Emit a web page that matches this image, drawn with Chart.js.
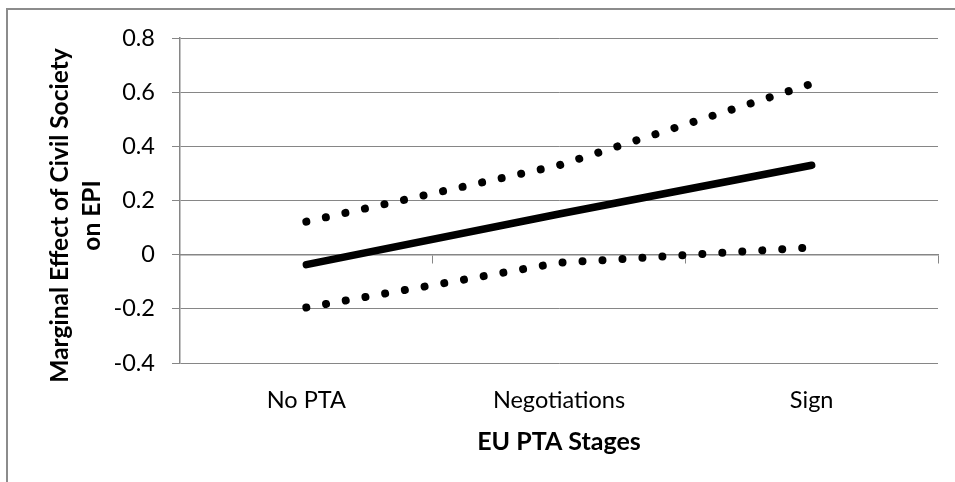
<!DOCTYPE html>
<html>
<head>
<meta charset="utf-8">
<script src="https://cdn.jsdelivr.net/npm/chart.js@4"></script>
<style>
  html, body { margin: 0; padding: 0; background: #fff; }
  #wrap { position: relative; width: 955px; height: 482px; overflow: hidden; }
  #frame { position: absolute; left: 6px; top: 8px; width: 980px; height: 500px;
           border-left: 2px solid #8c8c8c; border-top: 2px solid #8c8c8c; pointer-events: none; }
  canvas { position: absolute; left: 0; top: 0; }
</style>
</head>
<body>
<div id="wrap">
  <canvas id="myChart" width="955" height="482"></canvas>
  <div id="frame"></div>
</div>
<script>
// categories and series
const stages = ['No PTA', 'Negotiations', 'Sign'];
const effect = [-0.037, 0.15, 0.33];
const upperBound = [0.122, 0.33, 0.631];
const lowerBound = [-0.195, -0.03, 0.027];
const yTitleLines = ['Marginal Effect of Civil Society', 'on EPI'];
const xTitle = 'EU PTA Stages';

const gray = '#868686';
const fontFamily = 'Lato, "Liberation Sans", sans-serif';

// y axis title is drawn by hand so it can sit a bit below the plot middle
const yTitlePlugin = {
  id: 'yTitle',
  afterDraw(chart) {
    const ctx = chart.ctx;
    const area = chart.chartArea;
    ctx.save();
    ctx.font = 'bold 24.5px ' + fontFamily;
    ctx.fillStyle = '#000';
    ctx.textAlign = 'center';
    ctx.textBaseline = 'middle';
    ctx.translate(60, (area.top + area.bottom) / 2 + 15);
    ctx.rotate(-Math.PI / 2);
    yTitleLines.forEach((line, i) => {
      ctx.fillText(line, 0, i * 32);
    });
    ctx.restore();
  }
};

const ctx = document.getElementById('myChart').getContext('2d');
const chart = new Chart(ctx, {
  type: 'line',
  data: {
    labels: stages,
    datasets: [
      {
        label: 'Upper',
        data: upperBound,
        borderColor: '#000',
        borderWidth: 8,
        borderDash: [0.01, 20],
        borderCapStyle: 'round',
        pointRadius: 0,
        fill: false
      },
      {
        label: 'Effect',
        data: effect,
        borderColor: '#000',
        borderWidth: 7.5,
        borderCapStyle: 'round',
        pointRadius: 0,
        fill: false
      },
      {
        label: 'Lower',
        data: lowerBound,
        borderColor: '#000',
        borderWidth: 8,
        borderDash: [0.01, 20],
        borderCapStyle: 'round',
        pointRadius: 0,
        fill: false
      }
    ]
  },
  options: {
    responsive: false,
    animation: false,
    layout: { padding: { left: 0, right: 17, top: 38, bottom: 0 } },
    plugins: {
      legend: { display: false },
      tooltip: { enabled: false }
    },
    scales: {
      x: {
        type: 'category',
        offset: true,
        position: 'bottom',
        grid: { display: false, drawTicks: false },
        border: { display: false },
        ticks: {
          color: '#000',
          padding: 23,
          font: { family: fontFamily, size: 23.5 }
        },
        title: {
          display: true,
          text: xTitle,
          color: '#000',
          font: { family: fontFamily, size: 25, weight: 'bold' },
          padding: { top: 0, bottom: 25 }
        },
        afterFit(scale) { scale.height = 119; }
      },
      x2: {
        type: 'category',
        labels: stages,
        offset: true,
        position: { y: 0 },
        grid: {
          display: true,
          drawOnChartArea: false,
          drawTicks: true,
          tickLength: 8,
          color: gray,
          offset: true
        },
        border: { display: true, color: gray, width: 1.5 },
        ticks: { display: false }
      },
      y: {
        min: -0.4,
        max: 0.8,
        ticks: {
          stepSize: 0.2,
          color: '#000',
          padding: 17,
          font: { family: fontFamily, size: 23.5 },
          callback: (v) => {
            const r = Math.round(v * 10) / 10;
            return r === 0 ? '0' : r.toFixed(1);
          }
        },
        grid: { color: gray, lineWidth: 1, tickLength: 8, drawTicks: true },
        border: { display: true, color: gray, width: 1.5 },
        afterFit(scale) { scale.width = 180; }
      }
    }
  },
  plugins: [yTitlePlugin]
});
</script>
</body>
</html>
